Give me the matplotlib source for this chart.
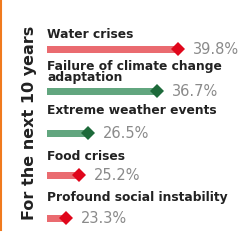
import matplotlib.pyplot as plt

# risks and their share
risks = ["Water crises", "Failure of climate change\nadaptation",
         "Extreme weather events", "Food crises", "Profound social instability"]
values = [39.8, 36.7, 26.5, 25.2, 23.3]
kinds = ["red", "green", "green", "red", "red"]

bar_col = {"red": "#ea6b70", "green": "#62a67f"}
dot_col = {"red": "#e0061b", "green": "#1d6a3a"}

label_y = [35, 72, 110, 156, 197]   # pixel rows for the label text
bar_y = [49, 91, 133, 175, 218]     # pixel rows for the bars
base = 20.5

fig = plt.figure(figsize=(2.44, 2.46), dpi=100)
ax = fig.add_axes([0, 0, 1, 1])
ax.set_xlim(13.53, 49.57)
ax.set_ylim(246, 0)
ax.axis("off")

for i in range(len(risks)):
    ax.barh(bar_y[i], values[i] - base, left=base, height=7,
            color=bar_col[kinds[i]])
    ax.plot(values[i], bar_y[i], marker="D", markersize=7,
            color=dot_col[kinds[i]], markeredgewidth=0)
    ax.text(values[i] + 2.2, bar_y[i] + 0.5, "%.1f%%" % values[i],
            fontsize=10.5, color="#8a8a8a", va="center", ha="left")
    ax.text(base, label_y[i], risks[i], fontsize=8.8, fontweight="bold",
            color="#222222", va="center", ha="left", linespacing=0.8)

ax.text(17.9, 123, "For the next 10 years", rotation=90, fontsize=11.5,
        fontweight="bold", color="#222222", va="center", ha="center")

# orange rule on the left edge
ax.plot([13.65, 13.65], [0, 230], color="#f07a1e", lw=1.5)

fig.savefig("out.png", dpi=100)
